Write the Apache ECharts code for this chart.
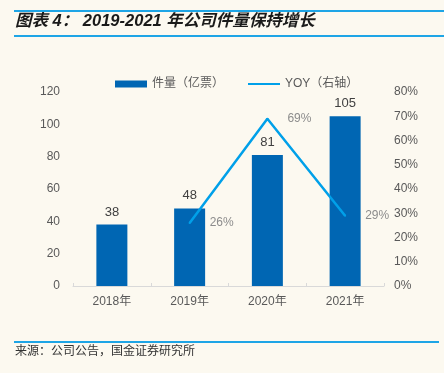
<!DOCTYPE html>
<html>
<head>
<meta charset="utf-8">
<script src="https://cdn.jsdelivr.net/npm/echarts@6/dist/echarts.min.js"></script>
<style>
html,body{margin:0;padding:0;background:#FCF9F0;}
#c{width:444px;height:373px;}
</style>
</head>
<body>
<div id="c"></div>
<script>
const categories = ['2018年', '2019年', '2020年', '2021年'];
const volume = [38, 48, 81, 105];
const yoy = [null, 0.26, 0.69, 0.29];
const leftTicks = [0, 20, 40, 60, 80, 100, 120];
const rightTicks = ['0%', '10%', '20%', '30%', '40%', '50%', '60%', '70%', '80%'];

const chart = echarts.init(document.getElementById('c'), null, {renderer: 'canvas'});
const FONT = '"Liberation Sans", Arial, "Noto Sans CJK SC", sans-serif';
const option = {
  backgroundColor: '#FCF9F0',
  animation: false,
  textStyle: {fontFamily: FONT},
  graphic: [
    {type: 'rect', shape: {x: 14, y: 10, width: 430, height: 2}, style: {fill: '#1EA5E6'}},
    {type: 'rect', shape: {x: 14, y: 35, width: 430, height: 2}, style: {fill: '#1EA5E6'}},
    {type: 'text', left: 15, top: 13, style: {text: '图表 4： 2019-2021 年公司件量保持增长', font: 'italic bold 16.5px ' + FONT, fill: '#1a1a1a'}},
    {type: 'rect', shape: {x: 14, y: 341, width: 425, height: 2}, style: {fill: '#1EA5E6'}},
    {type: 'text', left: 15, top: 346, style: {text: '来源：公司公告，国金证券研究所', font: '12px ' + FONT, fill: '#333'}}
  ],
  legend: {
    top: 73,
    left: 110,
    itemGap: 24,
    textStyle: {color: '#595959', fontSize: 12, fontFamily: FONT},
    data: [
      {name: '件量（亿票）', icon: 'rect', itemStyle: {color: '#0066B3'}},
      {name: 'YOY（右轴）', icon: 'path://M0,0 L32,0 L32,2 L0,2 Z', itemStyle: {color: '#00A0E9', opacity: 1}}
    ],
    itemWidth: 32,
    itemHeight: 7
  },
  grid: {left: 73, right: 60, top: 92, bottom: 87},
  xAxis: {
    type: 'category',
    data: categories,
    axisLine: {lineStyle: {color: '#D9D9D9'}},
    axisTick: {show: true, inside: true, length: 3, lineStyle: {color: '#D9D9D9'}},
    axisLabel: {color: '#595959', fontSize: 12, margin: 10, fontFamily: FONT}
  },
  yAxis: [
    {
      type: 'value', min: leftTicks[0], max: leftTicks[leftTicks.length - 1], interval: 20,
      axisLine: {show: false}, axisTick: {show: false}, splitLine: {show: false},
      axisLabel: {color: '#595959', fontSize: 12, margin: 13}
    },
    {
      type: 'value', min: 0, max: 0.8, interval: 0.1,
      axisLine: {show: false}, axisTick: {show: false}, splitLine: {show: false},
      axisLabel: {color: '#595959', fontSize: 12, margin: 10,
        formatter: v => rightTicks[Math.round(v * 10)]}
    }
  ],
  series: [
    {
      name: '件量（亿票）', type: 'bar', data: volume, barWidth: 31,
      itemStyle: {color: '#0066B3'},
      label: {show: true, position: 'top', color: '#404040', fontSize: 13, distance: 6}
    },
    {
      name: 'YOY（右轴）', type: 'line', yAxisIndex: 1, data: yoy,
      symbol: 'circle', symbolSize: 2, showSymbol: true,
      lineStyle: {color: '#00A0E9', width: 2.5},
      itemStyle: {color: '#00A0E9'},
      label: {show: true, position: 'right', distance: 19, color: '#8C8C8C', fontSize: 12,
        formatter: p => Math.round(p.value * 100) + '%'}
    }
  ]
};
chart.setOption(option);
</script>
</body>
</html>
